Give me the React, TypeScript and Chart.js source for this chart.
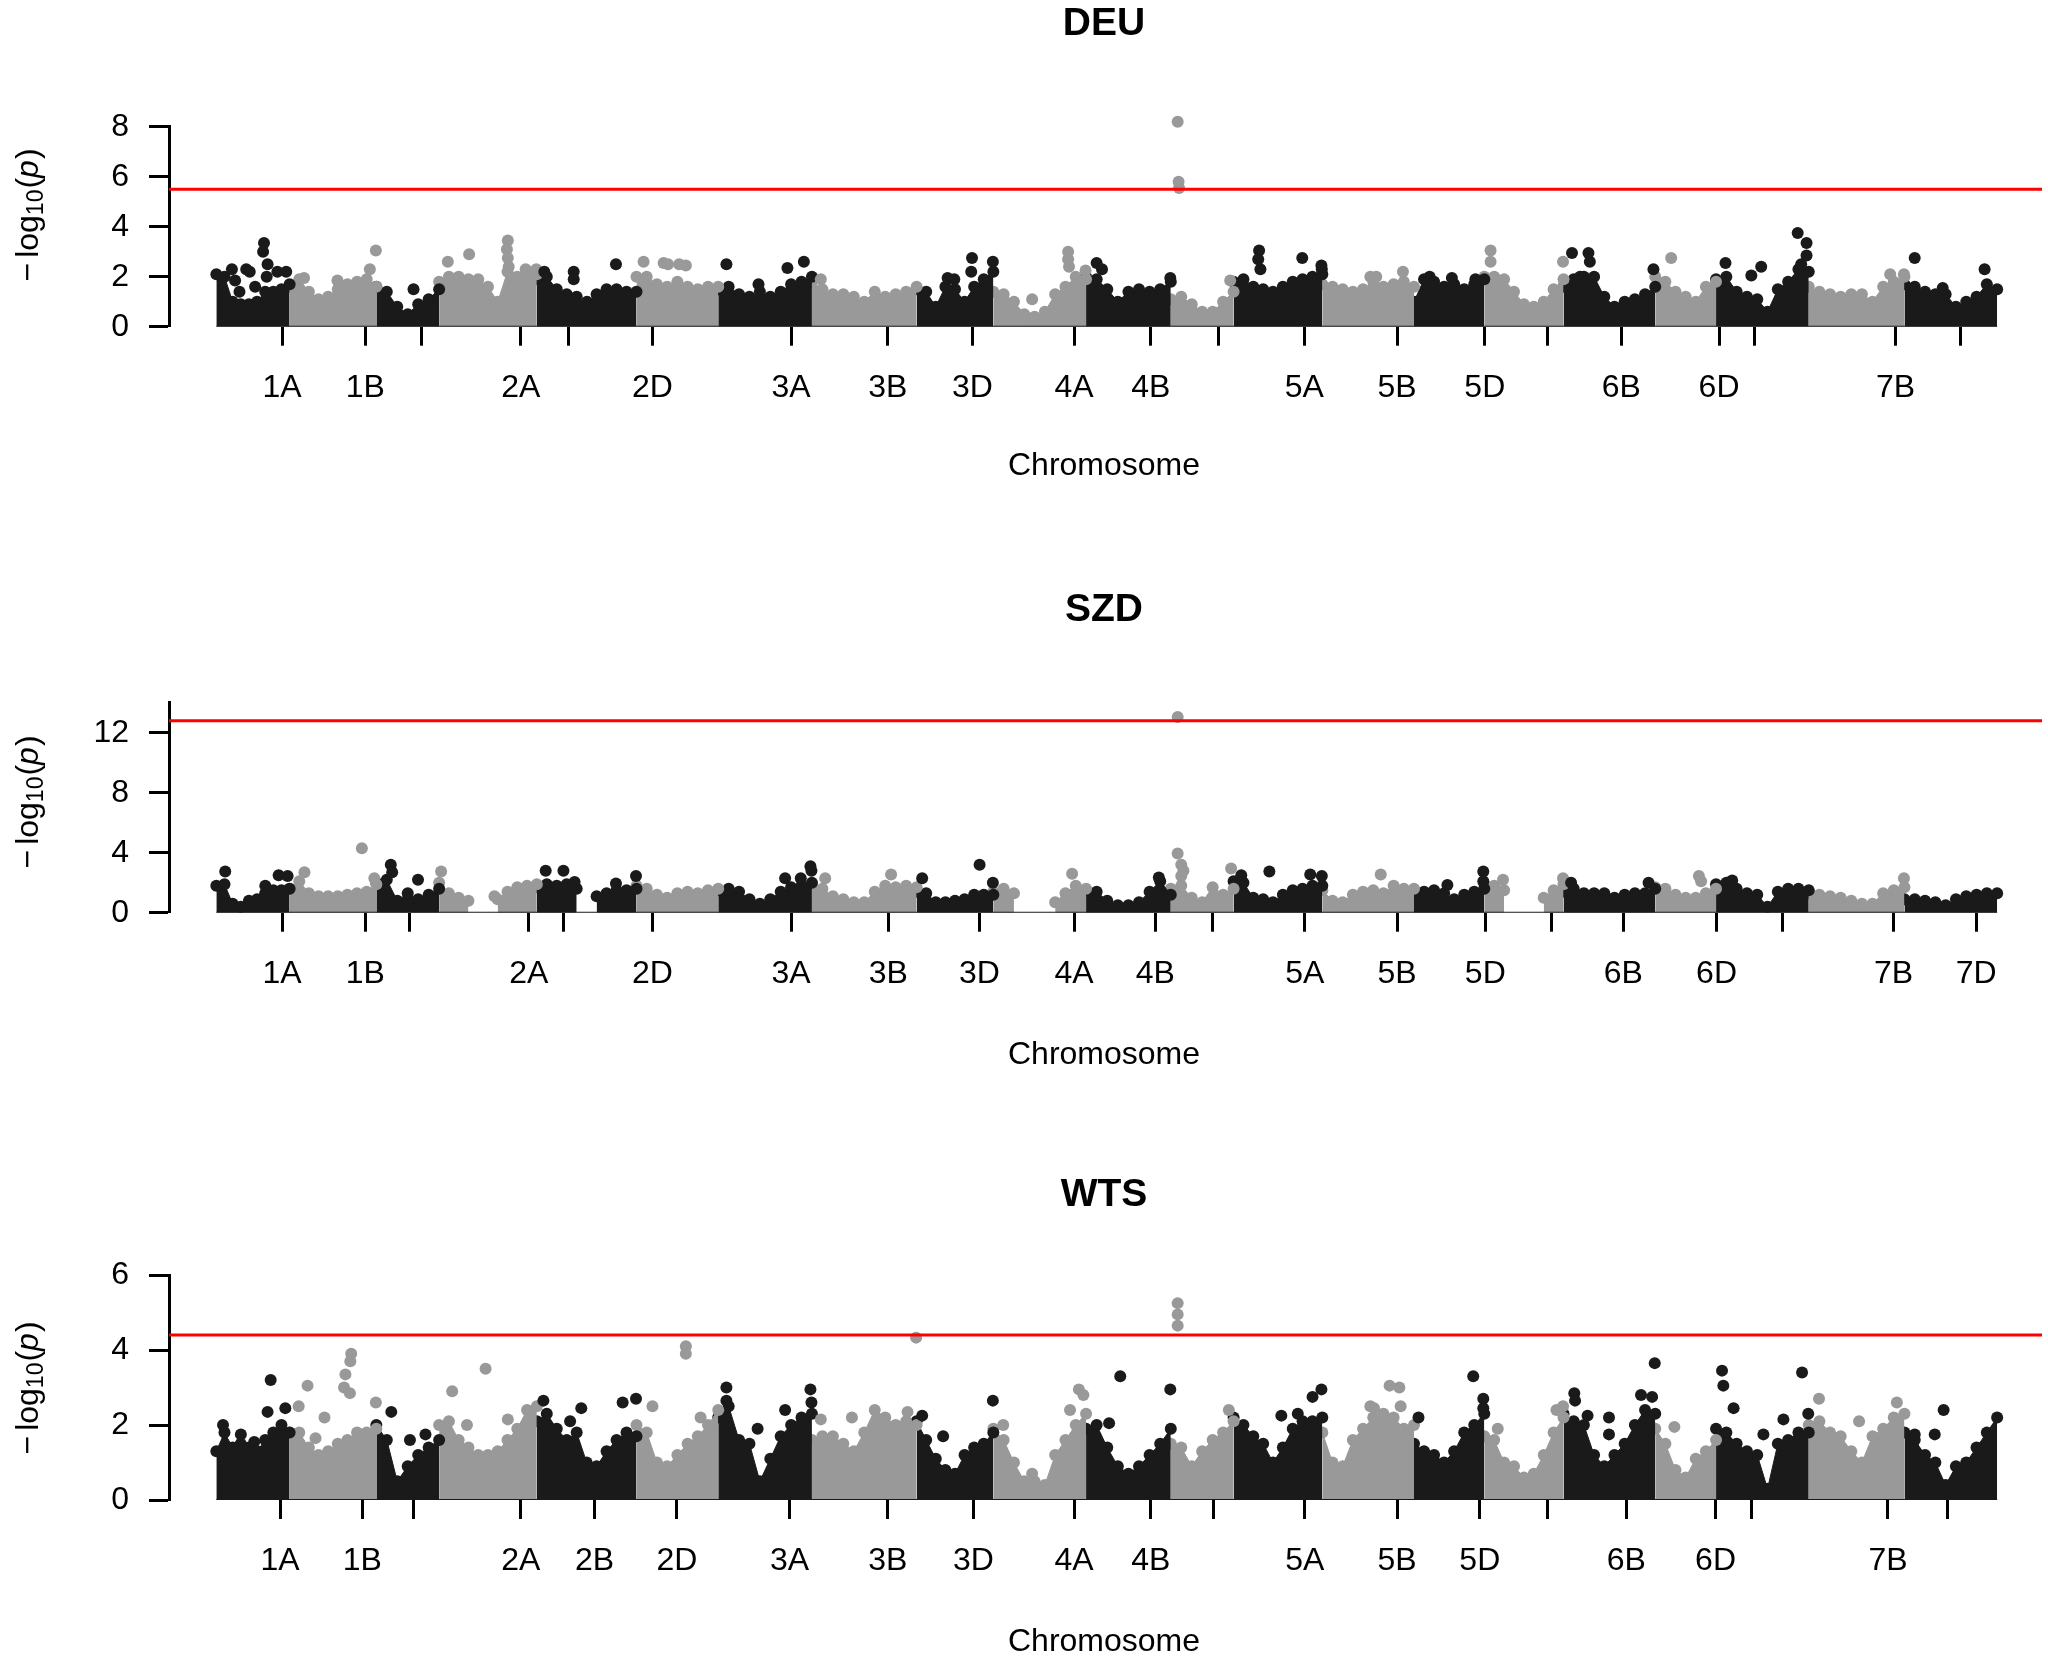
import { useEffect, useRef } from 'react';
import Chart from 'chart.js/auto';

// chromosome layout (cumulative position units)
const chromNames = ['1A', '1B', '1D', '2A', '2B', '2D', '3A', '3B', '3D', '4A', '4B', '4D', '5A', '5B', '5D', '6A', '6B', '6D', '7A', '7B', '7D'];
const chromLengths = [73.5, 87, 63, 98, 100, 82, 94, 105, 77, 93, 85, 63, 89, 92, 70.5, 79.5, 92, 61, 93, 96, 93];

// ---------- DEU ----------
const deuTicks = [66, 149.5, 206, 305.5, 353.5, 437.5, 576.5, 673.5, 758.5, 860.5, 937.5, 1005.5, 1091.5, 1184.5, 1272.5, 1335.5, 1409.5, 1507.5, 1543.5, 1684.5, 1749.5];
const deuTickLabels = ['1A', '1B', '', '2A', '', '2D', '3A', '3B', '3D', '4A', '4B', '', '5A', '5B', '5D', '', '6B', '6D', '', '7B', ''];
const deuLevels = [
  [2.1, 2.0, 1.0, 0.9, 0.9, 1.0, 1.4, 1.4, 1.5, 1.7],
  [1.6, 1.9, 1.4, 1.1, 1.2, 1.5, 1.7, 1.8, 1.9, 1.6],
  [1.6, 1.4, 0.8, 0.5, 0.9, 1.1, 1.5],
  [1.8, 2.0, 2.0, 1.9, 1.9, 1.6, 1.0, 2.2, 2.0, 2.1, 2.1],
  [1.9, 2.0, 1.5, 1.3, 1.2, 0.9, 1.3, 1.5, 1.5, 1.4, 1.4],
  [2.0, 2.0, 1.7, 1.6, 1.8, 1.6, 1.5, 1.6, 1.6],
  [1.5, 1.6, 1.3, 1.2, 1.4, 1.2, 1.4, 1.7, 1.8, 2.0],
  [1.8, 1.5, 1.3, 1.3, 1.2, 1.0, 1.4, 1.2, 1.3, 1.4, 1.6],
  [1.5, 1.4, 0.8, 1.6, 1.5, 1.0, 1.6, 1.9, 2.2],
  [1.4, 1.3, 1.0, 0.5, 0.4, 0.6, 1.3, 1.6, 2.0, 1.9],
  [2.0, 1.9, 1.5, 1.0, 1.4, 1.5, 1.4, 1.5, 1.8],
  [1.1, 1.2, 0.9, 0.6, 0.6, 1.0, 1.4],
  [1.8, 1.9, 1.6, 1.5, 1.4, 1.6, 1.8, 1.9, 2.0, 2.1],
  [1.7, 1.6, 1.5, 1.4, 1.5, 1.8, 1.6, 1.7, 1.8, 1.6],
  [1.0, 1.9, 1.8, 1.6, 1.7, 1.5, 1.7, 1.9],
  [2.0, 2.0, 1.9, 1.4, 0.9, 0.8, 1.0, 1.5, 1.9],
  [1.6, 1.9, 2.0, 2.0, 1.2, 0.8, 1.0, 1.1, 1.3, 1.6],
  [2.0, 1.8, 1.4, 1.2, 1.0, 1.6, 1.8],
  [1.9, 2.0, 1.4, 1.2, 1.1, 0.6, 1.5, 1.8, 2.3, 2.2],
  [1.6, 1.4, 1.3, 1.2, 1.3, 1.3, 1.0, 1.6, 1.8, 2.0],
  [1.7, 1.6, 1.4, 1.3, 1.3, 0.8, 1.0, 1.2, 1.7, 1.5],
];
const deuPeakPos = [
  15.6, 18.8, 23.2, 30, 33.5, 38.9, 47.8, 46.9, 51.4, 50.5, 61.2, 70.1,
  88, 121.5, 154, 160, 197.8,
  232.2, 253.6, 292.4, 291.5, 292.4, 293.3, 310.3, 321,
  329, 358.5, 358.5, 371.9, 400.9,
  428.6, 448.7, 453.1, 464.3, 471,
  511.7, 543.9, 572.9, 589.4, 606.4,
  733.6, 740.3, 758.1, 757.3, 779,
  818.4, 854.5, 854.5, 855.4, 872,
  883.1, 888.5, 957,
  964.4, 964.4, 965.3, 965.8, 1017.1,
  1046.1, 1045.2, 1047.4, 1089.4, 1108.6, 1109,
  1157.7, 1163.6, 1190.4, 1217.2, 1239.5, 1263.1,
  1278.3, 1278.3, 1351,
  1360, 1376.5, 1377.9, 1368.1, 1441.7, 1459.5,
  1514, 1539.9, 1549.8, 1586.4, 1595.3, 1595.3, 1589.9,
  1679.2, 1693, 1703.8, 1731.9, 1773.9,
];
const deuPeakVal = [
  2.3, 1.85, 1.4, 2.3, 2.2, 1.6, 3.35, 3.0, 2.5, 2.0, 2.2, 2.2,
  1.95, 1.85, 2.3, 3.05, 1.5,
  2.6, 2.9, 3.45, 3.1, 2.75, 2.4, 2.3, 2.3,
  2.2, 2.2, 1.9, 1.0, 2.5,
  2.6, 2.55, 2.5, 2.5, 2.45,
  2.5, 1.7, 2.35, 2.6, 1.9,
  1.95, 1.9, 2.75, 2.2, 2.6,
  1.1, 3.0, 2.7, 2.4, 2.25,
  2.55, 2.3, 1.95,
  8.4, 8.2, 5.8, 5.55, 1.85,
  3.05, 2.7, 2.3, 2.75, 2.45, 2.3,
  2.0, 2.0, 2.2, 2.0, 1.95, 1.9,
  3.05, 2.6, 2.6,
  2.95, 2.95, 2.6, 2.0, 2.3, 2.75,
  2.55, 2.05, 2.4, 3.75, 3.35, 2.85, 2.5,
  2.1, 2.1, 2.75, 1.55, 2.3,
];

// ---------- SZD ----------
const szdTicks = [66, 149.5, 194, 313.5, 348, 437.5, 576.5, 674, 765.5, 860.5, 942, 999, 1092, 1184.5, 1273, 1339, 1411.5, 1505, 1571, 1682.5, 1765.5];
const szdTickLabels = ['1A', '1B', '', '2A', '', '2D', '3A', '3B', '3D', '4A', '4B', '', '5A', '5B', '5D', '', '6B', '6D', '', '7B', '7D'];
const szdLevels = [
  [1.8, 1.9, 0.6, 0.4, 0.8, 0.9, 1.3, 1.5, 1.5, 1.6],
  [1.6, 2.1, 1.3, 1.1, 1.1, 1.1, 1.2, 1.3, 1.4, 1.9],
  [2.0, 2.2, 0.8, 0.9, 0.9, 1.2, 1.6],
  [2.0, 1.3, 1.0, 0.8, null, null, 0.9, 1.4, 1.7, 1.8, 1.9],
  [1.7, 1.9, 1.8, 1.9, 1.6, null, 1.1, 1.3, 1.5, 1.5, 1.6],
  [1.8, 1.6, 1.2, 1.0, 1.3, 1.4, 1.3, 1.5, 1.6],
  [1.5, 1.6, 1.4, 0.9, 0.6, 0.9, 1.4, 1.7, 1.8, 2.0],
  [1.9, 1.6, 1.1, 0.9, 0.7, 0.7, 1.4, 1.8, 1.7, 1.8, 1.7],
  [1.4, 1.3, 0.7, 0.7, 0.8, 0.9, 1.2, 1.2, 1.2],
  [1.4, 1.6, 1.3, null, null, null, 0.7, 1.3, 1.8, 1.6],
  [1.5, 1.4, 0.8, 0.5, 0.5, 0.7, 1.4, 2.1, 1.2],
  [1.6, 1.8, 1.0, 0.7, 1.7, 1.2, 1.6],
  [2.1, 2.0, 1.0, 0.9, 0.7, 1.2, 1.5, 1.6, 1.8, 1.8],
  [1.5, 0.8, 0.7, 1.2, 1.4, 1.5, 1.3, 1.8, 1.6, 1.6],
  [1.2, 1.4, 1.5, 1.3, 0.9, 1.2, 1.4, 1.6],
  [1.9, 1.8, 1.5, null, null, null, 1.0, 1.5, 1.9],
  [1.4, 1.6, 1.3, 1.3, 1.3, 1.0, 1.2, 1.3, 1.3, 1.6],
  [1.7, 1.6, 1.2, 1.0, 1.0, 1.3, 1.6],
  [1.9, 2.0, 1.6, 1.3, 1.2, 0.4, 1.4, 1.6, 1.6, 1.5],
  [1.3, 1.2, 1.1, 1.0, 0.8, 0.6, 0.6, 1.3, 1.5, 1.7],
  [0.9, 0.9, 0.8, 0.7, 0.5, 0.9, 1.1, 1.2, 1.3, 1.3],
];
const szdPeakPos = [
  8.9, 49.1, 62.5, 71.5,
  88.4, 146, 158.5,
  175, 176.4, 202.3, 192,
  225.5, 279,
  330.4, 348.2, 359.4, 400.9, 421,
  570.6, 586.3, 596, 597,
  676.9, 610.8,
  708.1, 765.7, 779,
  858.5, 945.5,
  964.4, 964.4, 968, 970.2, 968, 1018,
  1028.2, 1056.4, 1097.4, 1109,
  1168.1, 1235, 1271, 1271,
  1290.8, 1351, 1359.1, 1436.8,
  1487.3, 1489.5, 1520.7, 1693,
];
const szdPeakVal = [
  2.75, 1.8, 2.5, 2.45,
  2.7, 4.3, 2.3,
  3.2, 2.7, 2.2, 1.3,
  2.75, 1.1,
  2.8, 2.8, 2.05, 1.95, 2.45,
  2.3, 2.3, 3.1, 2.8,
  2.55, 2.3,
  2.3, 3.2, 2.0,
  2.6, 2.35,
  13.05, 3.95, 3.2, 2.8, 2.45, 2.95,
  2.5, 2.75, 2.55, 2.45,
  2.55, 1.85, 2.75, 2.1,
  2.2, 2.3, 2.0, 2.0,
  2.45, 2.1, 2.15, 2.3,
];

// ---------- WTS ----------
const wtsTicks = [64, 146.5, 197.5, 305.5, 379.5, 462, 575, 673.5, 759.5, 860.5, 937.5, 1000.5, 1092, 1184.5, 1267.5, 1335.5, 1414.5, 1504, 1540.5, 1677, 1736.5];
const wtsTickLabels = ['1A', '1B', '', '2A', '2B', '2D', '3A', '3B', '3D', '4A', '4B', '', '5A', '5B', '5D', '', '6B', '6D', '', '7B', ''];
const wtsLevels = [
  [1.3, 1.8, 1.4, 1.5, 1.4, 1.3, 1.6, 1.8, 2.0, 1.8],
  [1.8, 1.8, 1.4, 1.2, 1.3, 1.5, 1.6, 1.8, 1.8, 1.9],
  [2.0, 1.6, 0.5, 0.9, 1.2, 1.4, 1.6],
  [2.0, 2.1, 1.6, 1.4, 1.2, 1.2, 1.3, 1.6, 1.9, 2.4, 2.5],
  [2.1, 2.3, 1.9, 1.6, 1.8, 1.0, 0.9, 1.3, 1.6, 1.8, 1.7],
  [2.0, 1.8, 1.0, 0.9, 1.2, 1.5, 1.7, 2.0, 2.4],
  [2.2, 2.5, 1.6, 1.5, 0.5, 1.1, 1.7, 2.0, 2.2, 2.3],
  [1.6, 1.7, 1.7, 1.5, 1.3, 1.8, 2.4, 2.2, 2.0, 2.1, 2.0],
  [2.1, 1.6, 1.1, 0.8, 0.7, 1.2, 1.4, 1.5, 1.8],
  [1.9, 1.6, 1.0, 0.5, 0.5, 0.4, 1.2, 1.6, 2.0, 2.3],
  [1.9, 2.0, 1.4, 0.9, 0.7, 0.9, 1.2, 1.5, 1.9],
  [1.5, 1.4, 0.9, 1.3, 1.6, 1.8, 2.1],
  [2.2, 2.0, 1.7, 1.5, 1.0, 1.4, 1.9, 2.1, 2.1, 2.2],
  [1.8, 1.0, 0.9, 1.6, 1.9, 2.2, 2.3, 2.2, 1.9, 2.0],
  [1.5, 1.3, 1.2, 1.0, 1.3, 1.8, 2.0, 2.3],
  [1.7, 1.6, 1.0, 0.9, 0.6, 0.7, 1.2, 1.8, 2.2],
  [2.3, 2.1, 2.0, 1.2, 0.9, 1.2, 1.5, 2.0, 2.4, 2.3],
  [1.9, 1.5, 0.8, 0.6, 1.1, 1.3, 1.6],
  [1.9, 1.8, 1.5, 1.3, 1.2, 0.3, 1.5, 1.6, 1.8, 1.8],
  [2.0, 2.1, 1.8, 1.7, 1.3, 1.0, 1.7, 1.9, 2.2, 2.3],
  [1.8, 1.6, 1.2, 1.0, 0.4, 0.9, 1.0, 1.4, 1.8, 2.2],
];
const wtsPeakPos = [
  6.7, 24.6, 38, 51.4, 54.5, 69.2,
  82.6, 91.5, 99.5, 108.5, 135.3, 134.4, 129.5, 128.1, 134, 160,
  175.5, 194.2, 209.8,
  236.6, 251.4, 270.1, 292.4,
  328.1, 354.9, 366.1, 407.6, 421,
  437.5, 471, 471, 485.8,
  511.7, 511.7, 543, 570.6, 596, 597,
  606.4, 637.6, 693.4, 702,
  708.1, 729.1, 779,
  789.4, 818.4, 865.3, 869.8, 856.4,
  895.6, 906.8, 957,
  964.4, 964.4, 964.4, 1015.7,
  1068.4, 1084.9, 1099.7, 1108.6,
  1157.7, 1177, 1186.8, 1161.4, 1188.1,
  1206, 1260.9, 1271, 1271,
  1285.5, 1344.4, 1351,
  1362.3, 1363.1, 1375.6, 1397.1, 1397.1, 1429.2, 1440.4, 1443,
  1462.7,
  1510.5, 1511.8, 1522.1, 1552, 1572.1, 1590.8, 1597,
  1607.8, 1648, 1685.9,
  1703.8, 1723.9, 1732.8,
];
const wtsPeakVal = [
  2.0, 1.75, 1.55, 2.35, 3.2, 2.45,
  2.5, 3.05, 1.65, 2.2, 3.9, 3.7, 3.35, 3.0, 2.85, 2.6,
  2.35, 1.6, 1.75,
  2.9, 2.0, 3.5, 2.15,
  2.65, 2.1, 2.45, 2.6, 2.7,
  2.5, 4.1, 3.9, 2.2,
  3.0, 2.65, 1.9, 2.4, 2.95, 2.6,
  2.15, 2.2, 2.35, 4.33,
  2.25, 1.7, 2.65,
  2.0, 0.7, 2.95, 2.8, 2.4,
  2.05, 3.3, 2.95,
  5.25, 4.95, 4.65, 2.4,
  2.25, 2.3, 2.75, 2.95,
  2.5, 3.05, 3.0, 2.45, 2.5,
  2.2, 3.3, 2.7, 2.45,
  1.9, 2.4, 2.5,
  2.85, 2.65, 2.25, 2.2, 1.75, 2.8, 2.75, 3.65,
  1.95,
  3.45, 3.05, 2.45, 1.75, 2.15, 3.4, 2.3,
  2.7, 2.1, 2.6,
  1.75, 1.75, 2.4,
];

const DARK = '#1a1a1a';
const LIGHT = '#999999';
const RED = '#ff0000';
const FONT = '"Liberation Sans", Arial, Helvetica, sans-serif';
const X_MIN = -47.5;
const X_MAX = 1831.5;
const DOT = 6;

const chromStarts: number[] = [];
chromLengths.reduce((acc, len) => {
  chromStarts.push(acc);
  return acc + len;
}, 0);
const genomeEnd = chromStarts[chromStarts.length - 1] + chromLengths[chromLengths.length - 1];

function chromColor(i: number) {
  return i % 2 === 0 ? DARK : LIGHT;
}

function chromIndexAt(pos: number) {
  for (let i = chromStarts.length - 1; i >= 0; i--) {
    if (pos >= chromStarts[i]) return i;
  }
  return 0;
}

// titles and axis labels drawn in the margins like R does
const panelText = {
  id: 'panelText',
  afterDraw(chart: any, _args: any, opts: any) {
    const ctx = chart.ctx;
    const cx = 1104;
    ctx.save();
    ctx.fillStyle = '#000';
    ctx.textAlign = 'center';
    ctx.textBaseline = 'middle';
    ctx.font = `bold 39px ${FONT}`;
    ctx.fillText(opts.title, cx, opts.titleY);
    ctx.font = `32px ${FONT}`;
    ctx.fillText('Chromosome', cx, opts.xTitleY);

    // -log10(p) rotated
    const parts = [
      { t: '\u2212', f: `32px ${FONT}`, dy: 0, gap: 5 },
      { t: 'log', f: `32px ${FONT}`, dy: 0, gap: 0 },
      { t: '10', f: `23px ${FONT}`, dy: 8, gap: 1 },
      { t: '(', f: `32px ${FONT}`, dy: 0, gap: 0 },
      { t: 'p', f: `italic 32px ${FONT}`, dy: 0, gap: 1 },
      { t: ')', f: `32px ${FONT}`, dy: 0, gap: 0 },
    ];
    let total = 0;
    const widths = parts.map((p) => {
      ctx.font = p.f;
      const w = ctx.measureText(p.t).width;
      total += w + p.gap;
      return w;
    });
    ctx.translate(29, opts.yTitleY);
    ctx.rotate(-Math.PI / 2);
    ctx.textAlign = 'left';
    let x = -total / 2;
    parts.forEach((p, i) => {
      ctx.font = p.f;
      ctx.fillText(p.t, x, p.dy);
      x += widths[i] + p.gap;
    });
    ctx.restore();
  },
};

interface PanelProps {
  title: string;
  height: number;
  areaTop: number;
  areaBottom: number;
  titleY: number;
  xTitleY: number;
  yTitleY: number;
  yMax: number;
  yStep: number;
  yLabelEvery: number;
  threshold: number;
  ticks: number[];
  tickLabels: string[];
  levels: (number | null)[][];
  peakPos: number[];
  peakVal: number[];
}

function ManhattanPanel(props: PanelProps) {
  const chartRef = useRef<HTMLCanvasElement>(null);

  useEffect(() => {
    if (!chartRef.current) return;
    const ctx = chartRef.current.getContext('2d');
    if (!ctx) return;

    const datasets: any[] = [];
    // significance threshold
    datasets.push({
      data: [{ x: X_MIN, y: props.threshold }, { x: X_MAX, y: props.threshold }],
      borderColor: RED,
      borderWidth: 3,
      pointRadius: 0,
      fill: false,
      clip: false,
      order: 0,
    });
    // baseline under the points
    datasets.push({
      data: [{ x: 0, y: 0 }, { x: genomeEnd, y: 0 }],
      borderColor: DARK,
      borderWidth: 2,
      pointRadius: 0,
      fill: false,
      order: 1,
    });
    // stand-alone SNPs
    datasets.push({
      data: props.peakPos.map((p, i) => ({ x: p, y: props.peakVal[i] })),
      showLine: false,
      pointRadius: DOT,
      pointBorderWidth: 0,
      pointBackgroundColor: props.peakPos.map((p) => chromColor(chromIndexAt(p))),
      clip: false,
      order: 2,
    });
    // dense SNP mass per chromosome
    props.levels.forEach((lv, c) => {
      const col = chromColor(c);
      const start = chromStarts[c];
      const len = chromLengths[c];
      datasets.push({
        label: chromNames[c],
        data: lv.map((v, i) => ({ x: start + (len * i) / (lv.length - 1), y: v })),
        borderColor: col,
        borderWidth: 1,
        backgroundColor: col,
        pointBackgroundColor: col,
        pointBorderWidth: 0,
        pointRadius: DOT,
        fill: 'origin',
        spanGaps: false,
        clip: false,
        order: 3,
      });
    });

    const chart = new Chart(ctx, {
      type: 'line',
      data: { datasets },
      options: {
        animation: false,
        responsive: false,
        events: [],
        layout: { padding: { left: 9, right: 0, top: props.areaTop, bottom: 0 } },
        plugins: {
          legend: { display: false },
          tooltip: { enabled: false },
          title: { display: false },
          panelText: { title: props.title, titleY: props.titleY, xTitleY: props.xTitleY, yTitleY: props.yTitleY },
        } as any,
        scales: {
          x: {
            type: 'linear',
            min: X_MIN,
            max: X_MAX,
            afterFit: (s: any) => {
              s.height = props.height - props.areaBottom;
            },
            afterBuildTicks: (s: any) => {
              s.ticks = props.ticks.map((v) => ({ value: v }));
            },
            ticks: {
              autoSkip: false,
              maxRotation: 0,
              minRotation: 0,
              padding: 23,
              color: '#000',
              font: { family: FONT, size: 32 },
              callback: (_v: any, i: number) => props.tickLabels[i],
            },
            grid: { drawOnChartArea: false, drawTicks: true, tickLength: 19, tickWidth: 3, tickColor: '#000' },
            border: { display: false },
          },
          y: {
            min: 0,
            max: props.yMax,
            afterFit: (s: any) => {
              s.width = 160;
            },
            ticks: {
              stepSize: props.yStep,
              padding: 20,
              color: '#000',
              font: { family: FONT, size: 32 },
              callback: (v: any) => (Math.round(v) % props.yLabelEvery === 0 ? String(v) : ''),
            },
            grid: { drawOnChartArea: false, drawTicks: true, tickLength: 20, tickWidth: 3, tickColor: '#000' },
            border: { display: true, color: '#000', width: 3 },
          },
        },
      },
      plugins: [panelText],
    });

    return () => {
      chart.destroy();
    };
  }, []);

  return (
    <div style={{ width: 2048, height: props.height }}>
      <canvas ref={chartRef} width={2048} height={props.height} style={{ display: 'block' }}></canvas>
    </div>
  );
}

export default function App() {
  return (
    <div style={{ position: 'absolute', left: 0, top: 0, width: 2048, height: 1658, background: '#fff' }}>
      <ManhattanPanel
        title="DEU"
        height={560}
        areaTop={126.7}
        areaBottom={326.7}
        titleY={24}
        xTitleY={466}
        yTitleY={215}
        yMax={8}
        yStep={2}
        yLabelEvery={2}
        threshold={5.5}
        ticks={deuTicks}
        tickLabels={deuTickLabels}
        levels={deuLevels}
        peakPos={deuPeakPos}
        peakVal={deuPeakVal}
      />
      <ManhattanPanel
        title="SZD"
        height={580}
        areaTop={142.7}
        areaBottom={352.7}
        titleY={50}
        xTitleY={495}
        yTitleY={242}
        yMax={14}
        yStep={2}
        yLabelEvery={4}
        threshold={12.8}
        ticks={szdTicks}
        tickLabels={szdTickLabels}
        levels={szdLevels}
        peakPos={szdPeakPos}
        peakVal={szdPeakVal}
      />
      <ManhattanPanel
        title="WTS"
        height={518}
        areaTop={135}
        areaBottom={360}
        titleY={55}
        xTitleY={502}
        yTitleY={248}
        yMax={6}
        yStep={1}
        yLabelEvery={1}
        threshold={4.4}
        ticks={wtsTicks}
        tickLabels={wtsTickLabels}
        levels={wtsLevels}
        peakPos={wtsPeakPos}
        peakVal={wtsPeakVal}
      />
    </div>
  );
}
